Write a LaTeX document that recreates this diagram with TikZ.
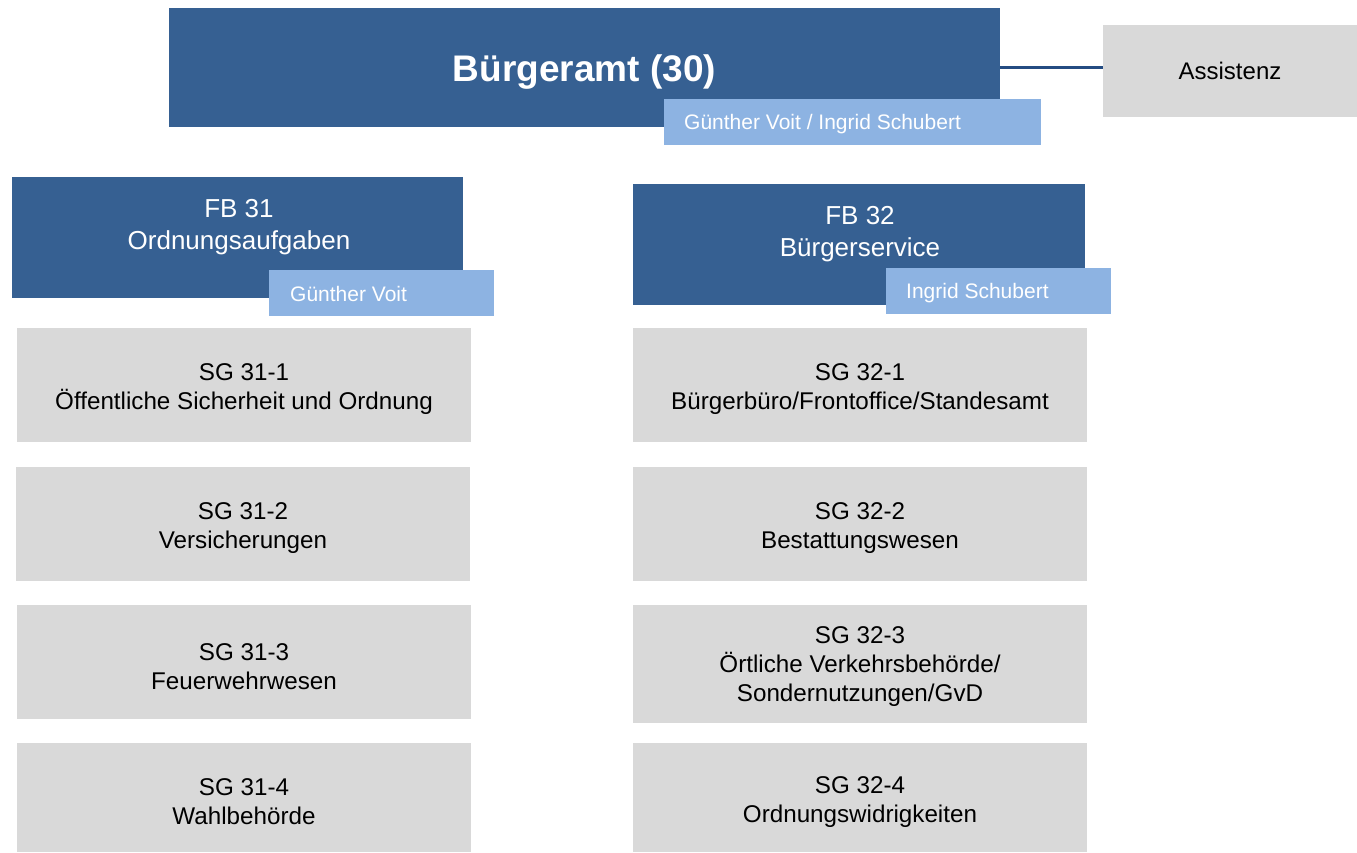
\documentclass[tikz,border=0pt]{standalone}
\usepackage{fontspec}
\setmainfont{Liberation Sans}
\definecolor{dblue}{HTML}{366092}
\definecolor{lblue}{HTML}{8DB3E2}
\definecolor{lgray}{HTML}{D9D9D9}
\definecolor{navy}{HTML}{244C82}
\begin{document}
\begin{tikzpicture}[x=1pt,y=-1pt,
  darkbox/.style={fill=dblue,draw=none,inner sep=0pt},
  namebox/.style={fill=lblue,draw=none,inner sep=0pt,minimum width=227pt,minimum height=46pt},
  graybox/.style={fill=lgray,draw=none,inner sep=0pt,minimum width=454pt},
  sgtext/.style={align=center,text=black,inner sep=0pt,font=\fontsize{24.2}{29}\selectfont},
  fbtext/.style={text=white,align=center,inner sep=0pt,font=\fontsize{26}{32}\selectfont},
  nametext/.style={text=white,anchor=west,inner sep=0pt,font=\fontsize{21}{25}\selectfont},
  conn/.style={draw=navy,line width=2.2pt}]
\useasboundingbox (0,0) rectangle (1357,852);
\fill[white] (0,0) rectangle (1357,852);

% top
\node[darkbox,minimum width=831pt,minimum height=119pt] (top) at (584.5,67.5) {};
\node[text=white,inner sep=0pt,font=\fontsize{37}{44}\selectfont\bfseries] (toptext) at (584.5,72.5) {Bürgeramt (30)};
\node[namebox,minimum width=377pt] (topname) at (852.5,122) {};
\node[nametext] (topnametext) at (684,124) {Günther Voit / Ingrid Schubert};
\node[fill=lgray,inner sep=0pt,minimum width=254pt,minimum height=92pt,
  font=\fontsize{24}{29}\selectfont] (assist) at (1230,71) {Assistenz};
\draw[conn] (top.east) -- (top.east -| assist.west);

% FB 31
\node[darkbox,minimum width=451pt,minimum height=121pt] (fb31) at (237.5,237.5) {};
\node[fbtext] (fb31text) at (239,227) {FB 31\\Ordnungsaufgaben};
\node[namebox,minimum width=225pt] (fb31name) at (381.5,293) {};
\node[nametext] (fb31nametext) at (290,294) {Günther Voit};

% FB 32
\node[darkbox,minimum width=452pt,minimum height=121pt] (fb32) at (859,244.5) {};
\node[fbtext] (fb32text) at (860,234) {FB 32\\Bürgerservice};
\node[namebox,minimum width=225pt] (fb32name) at (998.5,291) {};
\node[nametext] (fb32nametext) at (906,293) {Ingrid Schubert};

% SG 31
\node[graybox,minimum height=114pt] (sg311) at (244,385) {};
\node[sgtext] (sg311t) at ([yshift=-4.5pt]sg311.center) {SG 31-1\\Öffentliche Sicherheit und Ordnung};
\node[graybox,minimum height=114pt] (sg312) at (243,524) {};
\node[sgtext] (sg312t) at ([yshift=-4.5pt]sg312.center) {SG 31-2\\Versicherungen};
\node[graybox,minimum height=114pt] (sg313) at (244,662) {};
\node[sgtext] (sg313t) at ([yshift=-4.5pt]sg313.center) {SG 31-3\\Feuerwehrwesen};
\node[graybox,minimum height=109pt] (sg314) at (244,797.5) {};
\node[sgtext] (sg314t) at ([yshift=-4.5pt]sg314.center) {SG 31-4\\Wahlbehörde};

% SG 32
\node[graybox,minimum height=114pt] (sg321) at (860,385) {};
\node[sgtext] (sg321t) at ([yshift=-4.5pt]sg321.center) {SG 32-1\\Bürgerbüro/Frontoffice/Standesamt};
\node[graybox,minimum height=114pt] (sg322) at (860,523.5) {};
\node[sgtext] (sg322t) at ([yshift=-4.5pt]sg322.center) {SG 32-2\\Bestattungswesen};
\node[graybox,minimum height=118pt] (sg323) at (860,664) {};
\node[sgtext] (sg323t) at ([yshift=-3pt]sg323.center) {SG 32-3\\Örtliche Verkehrsbehörde/\\Sondernutzungen/GvD};
\node[graybox,minimum height=109pt] (sg324) at (860,797.5) {};
\node[sgtext] (sg324t) at ([yshift=-4.5pt]sg324.center) {SG 32-4\\Ordnungswidrigkeiten};
\end{tikzpicture}
\end{document}
